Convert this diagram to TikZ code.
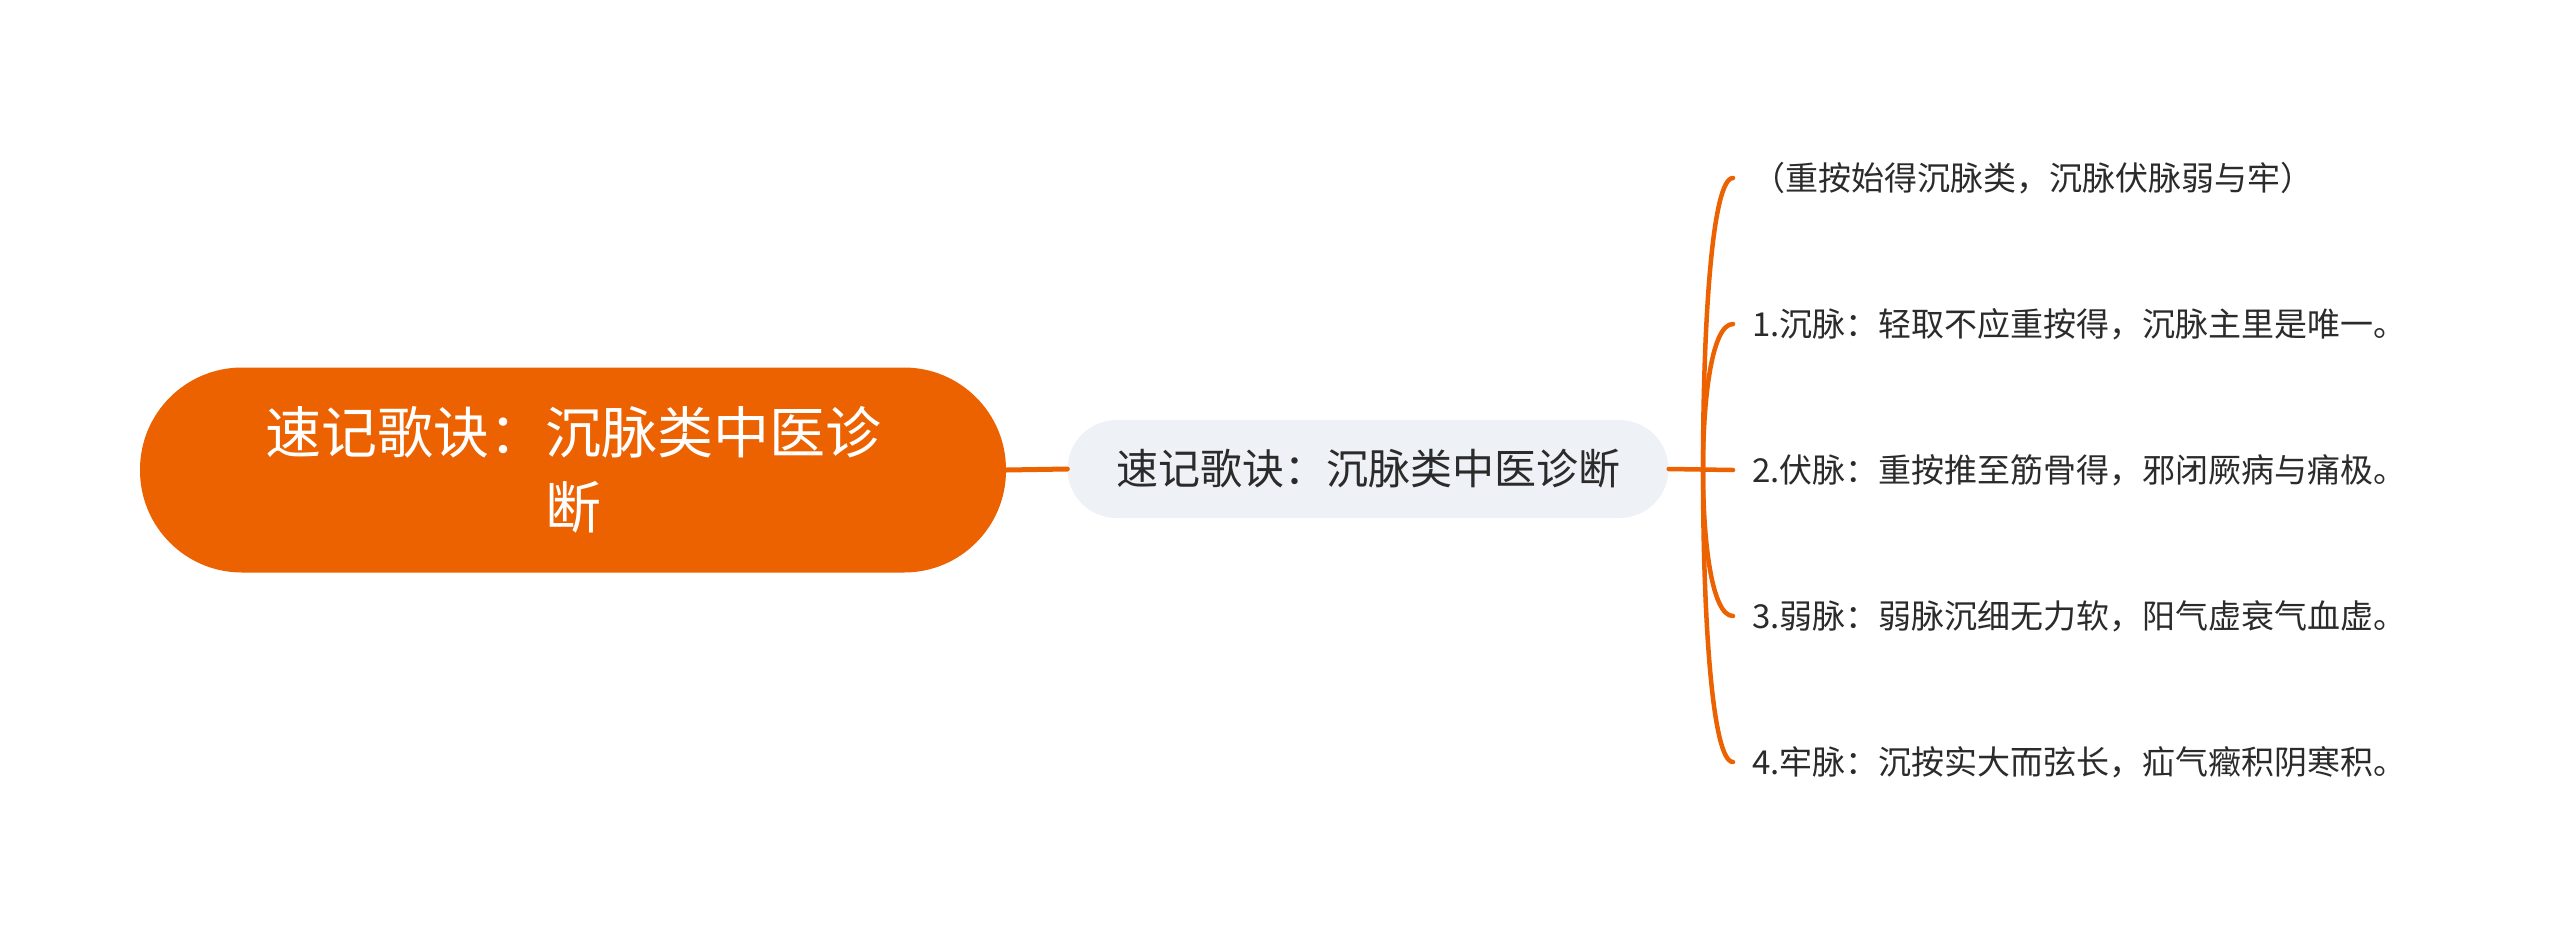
\documentclass[tikz,border=0pt]{standalone}
\usepackage{fontspec}
\newfontfamily\cjk{Noto Sans CJK SC}
\usetikzlibrary{calc}
\definecolor{mapor}{HTML}{EC6100}
\definecolor{mapgray}{HTML}{EEF1F5}
\definecolor{maptext}{HTML}{2B2B2B}
\tikzset{
  rootnode/.style={fill=mapor, rounded corners=102pt, minimum width=866pt, minimum height=205pt,
    text=white, align=center, font=\cjk\fontsize{56}{75}\selectfont},
  topicnode/.style={fill=mapgray, rounded corners=49pt, minimum width=601pt, minimum height=98pt,
    text=maptext, font=\cjk\fontsize{42}{50}\selectfont},
  leafnode/.style={anchor=west, inner xsep=19pt, inner ysep=4pt, text=maptext,
    font=\cjk\fontsize{33}{40}\selectfont},
  branch/.style={draw=mapor, line width=4.5pt, line cap=round}
}
\begin{document}
\begin{tikzpicture}[x=1pt,y=-1pt]
\useasboundingbox (0,0) rectangle (2560,940);

\node[rootnode] (root) at (573,470) {速记歌诀：沉脉类中医诊\\断};
\node[topicnode] (topic) at (1368,469) {速记歌诀：沉脉类中医诊断};
\coordinate (j) at (1703,470);

\node[leafnode] (c0) at (1733,178) {（重按始得沉脉类，沉脉伏脉弱与牢）};
\node[leafnode] (c1) at (1733,324) {1.沉脉：轻取不应重按得，沉脉主里是唯一。};
\node[leafnode] (c2) at (1733,470) {2.伏脉：重按推至筋骨得，邪闭厥病与痛极。};
\node[leafnode] (c3) at (1733,616) {3.弱脉：弱脉沉细无力软，阳气虚衰气血虚。};
\node[leafnode] (c4) at (1733,762) {4.牢脉：沉按实大而弦长，疝气癥积阴寒积。};

\draw[branch, line width=5pt] (root.east) -- (topic.west);
\draw[branch] (topic.east) -- (c2.west);
\foreach \i in {0,1,3,4}
  \draw[branch] (j) .. controls ($(j)!0.5!(j |- c\i.west)$) and ($(c\i.west)+(-21,0)$) .. (c\i.west);
\end{tikzpicture}
\end{document}
